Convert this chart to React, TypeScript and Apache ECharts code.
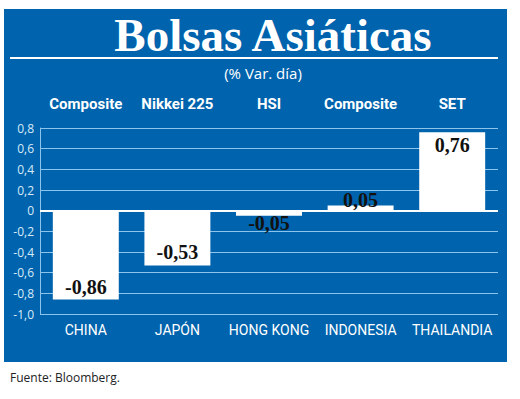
import React, { useEffect, useRef } from "react";
import * as echarts from "echarts";

const countries = ["CHINA", "JAPÓN", "HONG KONG", "INDONESIA", "THAILANDIA"];
const indices = ["Composite", "Nikkei 225", "HSI", "Composite", "SET"];
const values = [-0.86, -0.53, -0.05, 0.05, 0.76];
const labelPositions = ["insideBottom", "insideBottom", "bottom", "top", "insideTop"];
const labelDistances = [3, 3, -3, -4, 3];

const BLUE = "#0063ad";
const GRID = "#8cc4ec";

export default function App() {
  const ref = useRef<HTMLDivElement>(null);
  useEffect(() => {
    if (!ref.current) return;
    const chart = echarts.init(ref.current, null, { renderer: "svg" });
    chart.setOption({
      animation: false,
      backgroundColor: "#ffffff",
      graphic: [
        { type: "rect", shape: { x: 4, y: 9, width: 503, height: 353 }, style: { fill: BLUE }, z: -10 },
        { type: "line", shape: { x1: 10, y1: 58, x2: 498, y2: 58 }, style: { stroke: "#ffffff", lineWidth: 2 } },
        {
          type: "text", x: 273, y: 35,
          style: { text: "Bolsas Asiáticas", fill: "#ffffff", font: "bold 47px 'Liberation Serif', serif", textAlign: "center", textVerticalAlign: "middle" },
        },
        {
          type: "text", x: 263, y: 73,
          style: { text: "(% Var. día)", fill: "#ffffff", font: "15px 'Open Sans', sans-serif", textAlign: "center", textVerticalAlign: "middle" },
        },
        {
          type: "text", x: 10, y: 377,
          style: { text: "Fuente: Bloomberg.", fill: "#222222", font: "12px 'Open Sans', sans-serif", textAlign: "left", textVerticalAlign: "middle" },
        },
      ],
      grid: { left: 40, right: 22, top: 128, bottom: 85 },
      xAxis: [
        {
          type: "category", data: countries, position: "bottom",
          axisLine: { show: false }, axisTick: { show: false },
          axisLabel: { color: "#ffffff", fontSize: 14, fontFamily: "Roboto, sans-serif", margin: 9, interval: 0 },
        },
        {
          type: "category", data: indices, position: "top",
          axisLine: { show: false }, axisTick: { show: false },
          axisLabel: { color: "#ffffff", fontSize: 15, fontWeight: "bold", fontFamily: "Roboto, sans-serif", margin: 17, interval: 0 },
        },
      ],
      yAxis: {
        type: "value", min: -1, max: 0.8, interval: 0.2,
        axisLine: { show: true, lineStyle: { color: GRID, width: 1 } },
        axisTick: { show: false },
        splitLine: { show: true, lineStyle: { color: GRID, width: 1 } },
        axisLabel: {
          color: "#d8ebf9", fontSize: 12, fontFamily: "'Open Sans', sans-serif", margin: 6,
          formatter: (v: number) => (Math.abs(v) < 1e-9 ? "0" : v.toFixed(1).replace(".", ",")),
        },
      },
      series: [
        {
          type: "bar",
          xAxisIndex: 0,
          barWidth: "72%",
          data: values.map((v, i) => ({
            value: v,
            label: { position: labelPositions[i], distance: labelDistances[i] },
          })),
          itemStyle: { color: "#ffffff" },
          label: {
            show: true, color: "#111111", fontSize: 20, fontWeight: "bold",
            fontFamily: "'Liberation Serif', serif",
            formatter: (p: any) => p.value.toFixed(2).replace(".", ","),
          },
          markLine: {
            silent: true, symbol: "none", label: { show: false },
            lineStyle: { color: "#ffffff", width: 2, type: "solid" },
            data: [{ yAxis: 0 }],
          },
        },
      ],
    });
    return () => chart.dispose();
  }, []);
  return <div ref={ref} style={{ width: 520, height: 399, position: "absolute", left: 0, top: 0 }} />;
}
